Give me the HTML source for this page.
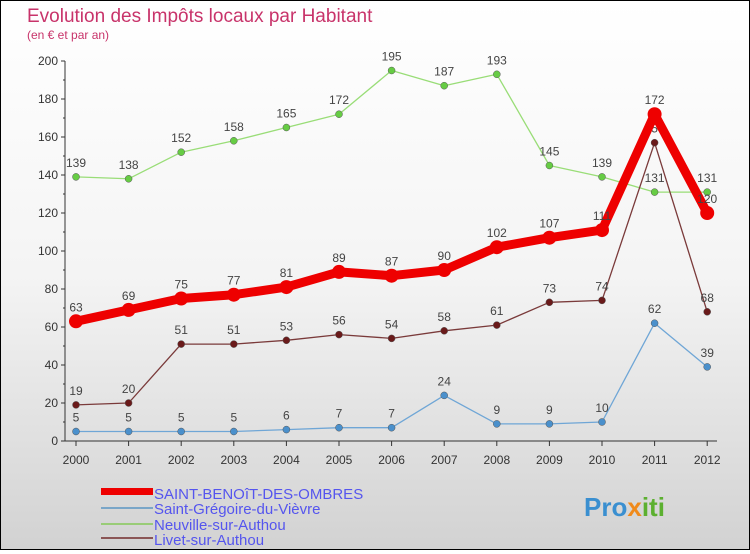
<!DOCTYPE html>
<html><head><meta charset="utf-8"><style>
body{margin:0}
#c{width:748px;height:548px;border:1px solid #000;background:linear-gradient(#fff 0%,#f4f4f4 50%,#d2d2d2 100%);position:relative;font-family:"Liberation Sans",sans-serif}
</style></head><body>
<div id="c">
<svg id="s" width="748" height="548">
<text x="26" y="21" font-size="19" fill="#c8336a">Evolution des Impôts locaux par Habitant</text>
<text x="26" y="38" font-size="12" fill="#c8336a">(en € et par an)</text>
<g id="ax"></g><g id="series"></g>
<g font-size="15" fill="#5555ee">
<rect x="100" y="487" width="52" height="7" fill="#e00"/>
<text x="153" y="498">SAINT-BENOîT-DES-OMBRES</text>
<rect x="100" y="506" width="52" height="2" fill="#7aa6c8"/>
<text x="153" y="513">Saint-Grégoire-du-Vièvre</text>
<rect x="100" y="522" width="52" height="2" fill="#99cc77"/>
<text x="153" y="529">Neuville-sur-Authou</text>
<rect x="100" y="536" width="52" height="2" fill="#8a5555"/>
<text x="153" y="544">Livet-sur-Authou</text>
</g>
<text x="583" y="515" font-size="26" font-weight="bold" fill="#3a8fd0">Pro<tspan fill="#f08a1a">x</tspan><tspan fill="#5cb030">iti</tspan></text>
</svg>
</div>
<script>
const years=[2000,2001,2002,2003,2004,2005,2006,2007,2008,2009,2010,2011,2012];
const yTicks=[0,20,40,60,80,100,120,140,160,180,200];
const benoit=[63,69,75,77,81,89,87,90,102,107,111,172,120];
const gregoire=[5,5,5,5,6,7,7,24,9,9,10,62,39];
const neuville=[139,138,152,158,165,172,195,187,193,145,139,131,131];
const livet=[19,20,51,51,53,56,54,58,61,73,74,157,68];
const NS='http://www.w3.org/2000/svg';
const X=i=>75+i*52.6, Y=v=>440-v*1.9;
function mk(t,a,p){const e=document.createElementNS(NS,t);for(const k in a)e.setAttribute(k,a[k]);p.appendChild(e);return e;}
const ax=document.getElementById('ax');
const yl=mk('line',{x1:64,y1:60,x2:64,y2:440,stroke:'#333'},ax);


const xl=mk('line',{x1:64,y1:440,x2:716,y2:440,stroke:'#333'},ax);


yTicks.forEach(v=>{
 mk('line',{x1:60,x2:64,y1:Y(v),y2:Y(v),stroke:'#333'},ax);
 if(v<200)mk('line',{x1:62,x2:64,y1:Y(v+10),y2:Y(v+10),stroke:'#333'},ax);
 const t=mk('text',{x:57,y:Y(v)+4,'font-size':12,'text-anchor':'end',fill:'#333'},ax);t.textContent=v;
 
 
});
years.forEach((y,i)=>{
 mk('line',{x1:X(i),x2:X(i),y1:440,y2:445,stroke:'#333'},ax);
 const t=mk('text',{x:X(i),y:463,'font-size':12,'text-anchor':'middle',fill:'#333'},ax);t.textContent=y;
 
 
});
const sg=document.getElementById('series');
function draw(data,color,w,r,name,dot){
 const g=mk('g',{},sg);
 
 
 const pl=mk('polyline',{points:data.map((v,i)=>X(i)+','+Y(v)).join(' '),fill:'none',stroke:color,'stroke-width':w,'stroke-linejoin':'round'},g);
 
 
 data.forEach((v,i)=>{
  const c=mk('circle',{cx:X(i),cy:Y(v),r:r,fill:dot,stroke:w>3?'none':'#555','stroke-width':0.5},g);
  
  
  const t=mk('text',{x:X(i),y:Y(v)-10,'font-size':12,'text-anchor':'middle',fill:'#444'},g);t.textContent=v;
  
  
 });
}
draw(gregoire,'#6fa6d6',1.3,3.5,'series-saint-gregoire','#4a90cc');
draw(neuville,'#99dd77',1.3,3.5,'series-neuville','#66cc44');
draw(livet,'#7a3a3a',1.3,3.5,'series-livet','#6a1a1a');
draw(benoit,'#ee0000',9,7,'series-saint-benoit','#ee0000');
</script>
</body></html>
